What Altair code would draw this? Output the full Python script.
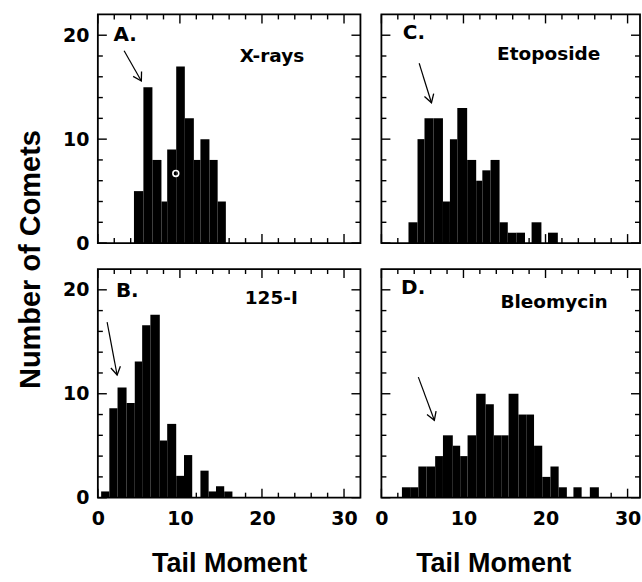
import math
import altair as alt
import pandas as pd

# ---------------- data ----------------
# bin edges (Tail Moment) and number of comets per bin
a_edges = [4.4, 5.55, 6.65, 7.75, 8.45, 9.55, 10.6, 11.7, 12.5, 13.6, 14.6, 15.6]
a_counts = [5, 15, 8, 4, 9, 17, 12, 8, 10, 8, 4]

b_edges = [0.4, 1.4, 2.4, 3.5, 4.5, 5.4, 6.4, 7.55, 8.45, 9.55, 10.5, 11.5, 12.5,
           13.5, 14.4, 15.4, 16.4]
b_counts = [0.6, 8.6, 10.6, 9.1, 13.1, 16.6, 17.6, 5.5, 7.1, 2.1, 4.1, 0, 2.6,
            0.6, 1.1, 0.6]

c_edges = [3.3, 4.4, 5.25, 6.35, 7.5, 8.35, 9.25, 10.45, 11.55, 12.3, 13.3, 14.4,
           15.4, 16.45, 17.5, 18.3, 19.5, 20.3, 21.5]
c_counts = [2, 10, 12, 12, 4, 10, 13, 8, 6, 7, 8, 2, 1, 1, 0, 2, 0, 1]

d_edges = [2.5, 3.5, 4.5, 5.5, 6.55, 7.5, 8.7, 9.6, 10.5, 11.55, 12.7, 13.7, 14.6,
           15.5, 16.7, 17.65, 18.6, 19.6, 20.6, 21.6, 22.6, 23.4, 24.4, 25.4, 26.5]
d_counts = [1, 1, 3, 3, 4, 6, 5, 4, 6, 10, 9, 6, 6, 10, 8, 8, 5, 2, 3, 1, 0, 1, 0, 1]

panel_letters = ["A.", "B.", "C.", "D."]
panel_names = ["X-rays", "125-I", "Etoposide", "Bleomycin"]
letter_xy = [(1.9, 20.0), (2.2, 19.9), (2.6, 20.2), (2.4, 20.2)]
name_xy = [(17.3, 18.0), (17.9, 19.2), (14.1, 18.2), (14.5, 18.8)]
# arrows: (x_start, y_start, x_tip, y_tip)
arrows = [(3.2, 18.5, 5.3, 15.6), (1.13, 16.9, 2.35, 11.8),
          (4.6, 17.3, 6.1, 13.5), (4.5, 11.6, 6.45, 7.45)]
# small white ring artifact in panel A
ring_x, ring_y = [9.5], [6.7]

x_major = [0, 10, 20, 30]
x_minor = [2, 4, 6, 8, 12, 14, 16, 18, 22, 24, 26, 28]
y_major = [0, 10, 20]
y_minor = [2, 4, 6, 8, 12, 14, 16, 18]
y_labels = [0, 10, 20]
x_labels = [0, 10, 20, 30]

# ---------------- layout / style ----------------
H = 229
W_LEFT, W_RIGHT = 263, 259
YMAX = 22.0
XMAX_LEFT = 32.0
XMAX_RIGHT = XMAX_LEFT * W_RIGHT / W_LEFT
TICK_FONT = "DejaVu Sans"
TITLE_FONT = "Liberation Sans"
MAJ, MIN = 9, 5


def panel(i, edges, counts, W, xmax, show_y, show_x, y_title=False, title_x=None):
    xs = alt.Scale(domain=[0, xmax], nice=False, zero=False)
    ys = alt.Scale(domain=[0, YMAX], nice=False)
    bars_df = pd.DataFrame({"lo": edges[:-1], "hi": edges[1:], "n": counts})

    if show_x:
        xaxis = alt.Axis(values=x_labels, ticks=False, domain=False, grid=False,
                         labelFont=TICK_FONT, labelFontSize=19, labelFontWeight="bold",
                         labelColor="black", labelPadding=12, labelFlush=False,
                         title="Tail Moment", titleFont=TITLE_FONT, titleFontSize=27,
                         titleFontWeight="bold", titleColor="black", titlePadding=22,
                         **({"titleX": title_x} if title_x is not None else {}))
    else:
        xaxis = None
    if show_y:
        if y_title:
            extra = dict(title="Number of Comets", titleFont=TITLE_FONT, titleFontSize=29,
                         titleFontWeight="bold", titleColor="black", titleAngle=270,
                         titleX=-67, titleY=H + 16, titleAlign="center",
                         titleBaseline="middle")
        else:
            extra = dict(title=None)
        yaxis = alt.Axis(values=y_labels, ticks=False, domain=False, grid=False,
                         labelFont=TICK_FONT, labelFontSize=19, labelFontWeight="bold",
                         labelColor="black", labelPadding=9, **extra)
    else:
        yaxis = None

    def X(f):
        return alt.X(f, scale=xs, axis=xaxis)

    def Y(f):
        return alt.Y(f, scale=ys, axis=yaxis)

    bars = alt.Chart(bars_df).mark_rect(color="black").encode(
        x=X("lo:Q"), x2="hi:Q", y=Y("n:Q"), y2=alt.datum(0))

    layers = [bars]

    def ticks(values, orient, length):
        df = pd.DataFrame({"v": values})
        base = alt.Chart(df).mark_rule(color="black", strokeWidth=1.4)
        if orient == "left":
            return base.encode(y=Y("v:Q"), x=alt.value(0), x2=alt.value(length))
        if orient == "right":
            return base.encode(y=Y("v:Q"), x=alt.value(W), x2=alt.value(W - length))
        if orient == "bottom":
            return base.encode(x=X("v:Q"), y=alt.value(H), y2=alt.value(H - length))
        return base.encode(x=X("v:Q"), y=alt.value(0), y2=alt.value(length))

    for vals, L in ((y_major, MAJ), (y_minor, MIN)):
        layers.append(ticks(vals, "left", L))
        layers.append(ticks(vals, "right", L))
    for vals, L in ((x_major, MAJ), (x_minor, MIN)):
        layers.append(ticks(vals, "bottom", L))
        layers.append(ticks(vals, "top", L))

    lx, ly = letter_xy[i]
    nx, ny = name_xy[i]
    txt_df = pd.DataFrame({"x": [lx, nx], "y": [ly, ny],
                           "t": [panel_letters[i], panel_names[i]],
                           "s": [20, 18.5]})
    layers.append(alt.Chart(txt_df).mark_text(
        align="left", baseline="middle", font=TICK_FONT, fontWeight="bold",
        color="black").encode(
        x=X("x:Q"), y=Y("y:Q"), text="t:N",
        size=alt.Size("s:Q", scale=None, legend=None)))

    x1, y1, x2, y2 = arrows[i]
    arr_df = pd.DataFrame({"x1": [x1], "y1": [y1], "x2": [x2], "y2": [y2]})
    layers.append(alt.Chart(arr_df).mark_rule(color="black", strokeWidth=1.2).encode(
        x=X("x1:Q"), y=Y("y1:Q"), x2="x2:Q", y2="y2:Q"))
    # arrowhead orientation from the arrow direction in pixel space
    dx = (x2 - x1) * W / xmax
    dy = -(y2 - y1) * H / YMAX
    ang = math.degrees(math.atan2(dy, dx)) % 360
    layers.append(alt.Chart(arr_df).mark_point(
        shape="M-1,-0.6L0,0L-1,0.6", filled=False, color="black", strokeWidth=1.3,
        size=260, angle=ang, opacity=1).encode(x=X("x2:Q"), y=Y("y2:Q")))

    if i == 0:
        ring_df = pd.DataFrame({"x": ring_x, "y": ring_y})
        layers.append(alt.Chart(ring_df).mark_point(
            shape="circle", filled=False, color="white", strokeWidth=1.6, size=34,
            opacity=1).encode(x=X("x:Q"), y=Y("y:Q")))

    return alt.layer(*layers).properties(width=W, height=H)


pA = panel(0, a_edges, a_counts, W_LEFT, XMAX_LEFT, True, False, y_title=True)
pB = panel(1, b_edges, b_counts, W_LEFT, XMAX_LEFT, True, True)
pC = panel(2, c_edges, c_counts, W_RIGHT, XMAX_RIGHT, False, False)
pD = panel(3, d_edges, d_counts, W_RIGHT, XMAX_RIGHT, False, True, title_x=112)

chart = alt.concat(pA, pC, pB, pD, columns=2, bounds="flush",
                   spacing={"row": 26, "column": 21}).properties(
    padding={"left": 16, "top": 12, "right": 0, "bottom": 4},
    background="white",
).configure_view(stroke="black", strokeWidth=1.8)

chart.save("out.html", embed_options={"renderer": "svg", "actions": False})
